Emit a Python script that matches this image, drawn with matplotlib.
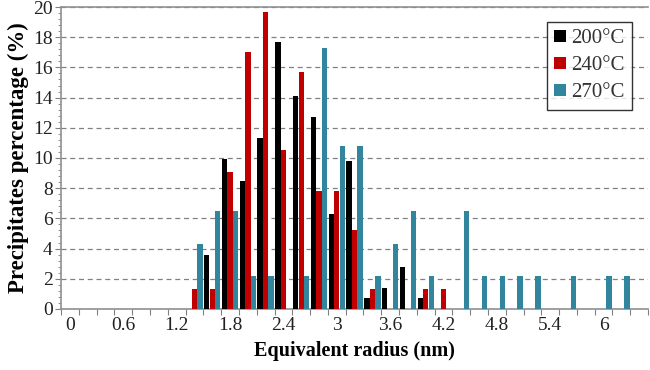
import numpy as np
import matplotlib
matplotlib.use('Agg')
import matplotlib.pyplot as plt
from matplotlib.ticker import MultipleLocator

plt.rcParams['font.family'] = ['Liberation Serif', 'DejaVu Serif']

## Data (percentage of precipitates per radius class, step 0.2 nm)
radius = [round(0.2 * i, 1) for i in range(33)]
pct_200 = [0, 0, 0, 0, 0, 0, 0, 0, 3.6, 9.9, 8.5, 11.3, 17.7, 14.1, 12.7, 6.3, 9.8,
           0.7, 1.4, 2.8, 0.7, 0, 0, 0, 0, 0, 0, 0, 0, 0, 0, 0, 0]
pct_240 = [0, 0, 0, 0, 0, 0, 0, 1.3, 1.3, 9.1, 17.0, 19.7, 10.5, 15.7, 7.8, 7.8, 5.2,
           1.3, 0, 0, 1.3, 1.3, 0, 0, 0, 0, 0, 0, 0, 0, 0, 0, 0]
pct_270 = [0, 0, 0, 0, 0, 0, 0, 4.3, 6.5, 6.5, 2.2, 2.2, 0, 2.2, 17.3, 10.8, 10.8,
           2.2, 4.3, 6.5, 2.2, 0, 6.5, 2.2, 2.2, 2.2, 2.2, 0, 2.2, 0, 2.2, 2.2, 0]
tick_labels = ['0', '0.6', '1.2', '1.8', '2.4', '3', '3.6', '4.2', '4.8', '5.4', '6']

series = [(pct_200, '200°C', '#000000'),
          (pct_240, '240°C', '#c00000'),
          (pct_270, '270°C', '#31859c')]

x = np.arange(len(radius))
bar_w = 0.3

fig = plt.figure(figsize=(6.5, 3.7), dpi=100)
ax = fig.add_axes([0.094, 0.165, 0.903, 0.816])

for n, (vals, lab, col) in enumerate(series):
    ax.bar(x + (n - 1) * 0.31, vals, width=bar_w, color=col, label=lab, zorder=3)

ax.set_xlim(-0.5, len(radius) - 0.5)
ax.set_ylim(0, 20)

# y axis
ax.yaxis.set_major_locator(MultipleLocator(2))
ax.yaxis.set_minor_locator(MultipleLocator(0.4))
ax.grid(axis='y', color='#808080', linestyle=(0, (4, 3)), linewidth=0.9, zorder=0)
ax.tick_params(axis='y', which='major', direction='out', length=4, color='#808080',
               labelsize=14, labelcolor='#222222', pad=2)
ax.tick_params(axis='y', which='minor', direction='out', length=2, color='#808080')

# x axis: ticks at category boundaries, labels every 3rd category
ax.set_xticks(np.arange(len(radius) + 1) - 0.5)
ax.set_xticklabels([])
ax.set_xticks(x[::3], minor=True)
ax.set_xticklabels(tick_labels, minor=True)
ax.tick_params(axis='x', which='major', direction='out', length=4, color='#808080')
ax.tick_params(axis='x', which='minor', length=0, labelsize=14, labelcolor='#222222', pad=6)

for s in ['left', 'bottom', 'top']:
    ax.spines[s].set_color('#909090')
    ax.spines[s].set_linewidth(1.2)
ax.spines['right'].set_visible(False)

ax.set_xlabel('Equivalent radius (nm)', fontsize=14.5, fontweight='bold', labelpad=5)
ax.set_ylabel('Precipitates percentage (%)', fontsize=16.5, fontweight='bold', labelpad=3)

leg = ax.legend(loc='upper right', bbox_to_anchor=(0.972, 0.95), fontsize=15,
                frameon=True, fancybox=False, edgecolor='black', handlelength=0.55,
                handleheight=0.55, handletextpad=0.25, borderpad=0.35, labelspacing=0.38,
                borderaxespad=0)
leg.get_frame().set_linewidth(1.0)
for t in leg.get_texts():
    t.set_color('#333333')

plt.savefig('out.png', dpi=100)
